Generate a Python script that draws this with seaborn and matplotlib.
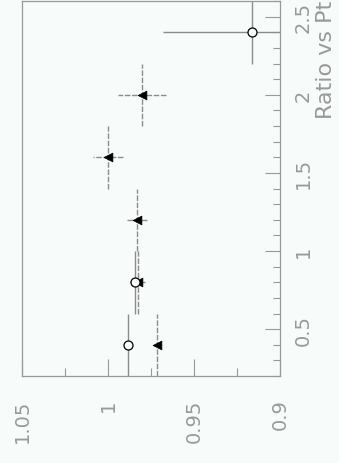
import numpy as np
import pandas as pd
import matplotlib
matplotlib.use("Agg")
import matplotlib.pyplot as plt
import seaborn as sns

# Series 1 (open circles)
pt_open = [0.4, 0.8, 2.4]
ratio_open = [0.9884, 0.9843, 0.9163]
ratio_err_open = [0.002, 0.003, 0.052]
pt_err_open = [0.2, 0.2, 0.2]

# Series 2 (filled triangles)
pt_fill = [0.4, 0.8, 1.2, 1.6, 2.0]
ratio_fill = [0.9715, 0.9826, 0.9831, 1.0000, 0.9800]
ratio_err_fill = [0.002, 0.004, 0.006, 0.0087, 0.014]
pt_err_fill = [0.2, 0.2, 0.2, 0.2, 0.2]

pt_ticks = [0.5, 1.0, 1.5, 2.0, 2.5]
pt_ticklabels = ["0.5", "1", "1.5", "2", "2.5"]
ratio_ticks = [1.05, 1.0, 0.95, 0.9]
ratio_ticklabels = ["1.05", "1", "0.95", "0.9"]
title = "Ratio vs Pt"

bg = "#f7fbf9"
grey = "#999999"
line_grey = "#8c8c8c"

sns.set_style("white")
plt.rcParams["font.family"] = ["DejaVu Sans"]

fig = plt.figure(figsize=(3.39, 4.64), dpi=100, facecolor=bg)
ax = fig.add_axes([22 / 339, 1 - 377 / 464, 258 / 339, 375 / 464])
ax.set_facecolor(bg)

df_open = pd.DataFrame({"ratio": ratio_open, "pt": pt_open})
df_fill = pd.DataFrame({"ratio": ratio_fill, "pt": pt_fill})

# error bars: ratio error horizontal, pt bin width vertical
ax.errorbar(ratio_open, pt_open, xerr=ratio_err_open, yerr=pt_err_open,
            fmt="none", ecolor=line_grey, elinewidth=1.0, capsize=0, zorder=2)
eb = ax.errorbar(ratio_fill, pt_fill, xerr=ratio_err_fill, yerr=pt_err_fill,
                 fmt="none", ecolor=line_grey, elinewidth=1.0, capsize=0, zorder=2)
for lc in eb.lines[2]:
    lc.set_linestyle((0, (4, 1.2)))

sns.scatterplot(data=df_fill, x="ratio", y="pt", marker="<", s=40,
                color="black", edgecolor="black", linewidth=0.5, ax=ax, zorder=4)
sns.scatterplot(data=df_open, x="ratio", y="pt", marker="o", s=42,
                facecolor=bg, edgecolor="black", linewidth=0.9, ax=ax, zorder=5)

ax.set_xlim(1.05, 0.9)
ax.set_ylim(0.2, 2.6)
ax.set_xlabel("")
ax.set_ylabel("")

# Pt axis on the right
ax.yaxis.tick_right()
ax.set_yticks(pt_ticks)
ax.set_yticklabels(pt_ticklabels, rotation=90, va="center", ha="left")
ax.set_yticks(np.arange(0.2, 2.61, 0.1), minor=True)
ax.set_xticks(ratio_ticks)
ax.set_xticklabels(ratio_ticklabels, rotation=90, ha="center", va="top")
ax.set_xticks([1.025, 0.975, 0.925], minor=True)

ax.tick_params(axis="y", which="both", direction="in", right=True, left=False,
               color=grey, labelcolor=grey, labelsize=14, pad=10)
ax.tick_params(axis="y", which="major", length=11, width=0.8)
ax.tick_params(axis="y", which="minor", length=5, width=0.8)
ax.tick_params(axis="x", which="both", direction="in", bottom=True, top=False,
               color=grey, labelcolor=grey, labelsize=14, pad=16)
ax.tick_params(axis="x", which="major", length=12, width=0.8)
ax.tick_params(axis="x", which="minor", length=6, width=0.8)

for sp in ax.spines.values():
    sp.set_color(grey)
    sp.set_linewidth(0.9)
    sp.set_visible(True)

fig.text(326 / 339, 0.998, title, rotation=90, ha="center", va="top",
         color=grey, fontsize=16)

fig.savefig("out.png", dpi=100, facecolor=bg)
